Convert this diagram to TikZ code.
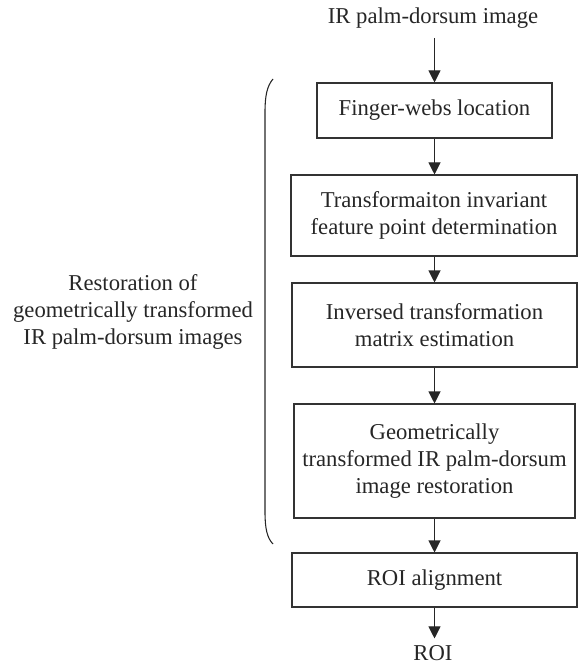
\documentclass[tikz,border=0pt]{standalone}
\usepackage{fontspec}
\setmainfont{Liberation Serif}
\usetikzlibrary{arrows.meta}
\begin{document}
\begin{tikzpicture}[x=0.75pt,y=-0.75pt,
  every node/.style={font=\fontsize{17}{20.5}\selectfont, text=black!85},
  procbox/.style={draw=black!80, line width=0.8pt, align=center, inner sep=0pt},
  plain/.style={align=center, inner sep=0pt},
  flow/.style={draw=black!85, line width=0.8pt, -{Triangle[width=9pt,length=9pt]}}]
\useasboundingbox (0,0) rectangle (579,670);
\node[plain] (top) at (433,18) {IR palm-dorsum image};
\node[procbox, minimum width=235*0.75pt, minimum height=55*0.75pt] (b1) at (434.5,110.5) {Finger-webs location};
\node[procbox, minimum width=286*0.75pt, minimum height=81*0.75pt] (b2) at (434,215.5) {Transformaiton invariant\\feature point determination};
\node[procbox, minimum width=285*0.75pt, minimum height=84*0.75pt] (b3) at (434.5,325) {Inversed transformation\\matrix estimation};
\node[procbox, minimum width=281*0.75pt, minimum height=114*0.75pt] (b4) at (434.5,461) {Geometrically\\transformed IR palm-dorsum\\image restoration};
\node[procbox, minimum width=285*0.75pt, minimum height=54*0.75pt] (b5) at (434.5,580) {ROI alignment};
\node[plain] (roi) at (433,653) {ROI};
\node[plain] (lab) at (133,312) {Restoration of\\geometrically transformed\\IR palm-dorsum images};
\draw[flow, shorten <=7pt] (top.south -| b1.north) -- (b1.north);
\draw[flow] (b1.south) -- (b2.north -| b1.south);
\draw[flow] (b2.south -| b1.south) -- (b3.north -| b1.south);
\draw[flow] (b3.south -| b1.south) -- (b4.north -| b1.south);
\draw[flow] (b4.south -| b1.south) -- (b5.north -| b1.south);
\draw[flow, shorten >=5pt] (b5.south -| b1.south) -- (roi.north -| b1.south);
\draw[draw=black!85, line width=0.8pt] (273,79) .. controls (267,86) and (265,96) .. (265,112) -- (265,512) .. controls (265,528) and (267,538) .. (273,544);
\end{tikzpicture}
\end{document}
